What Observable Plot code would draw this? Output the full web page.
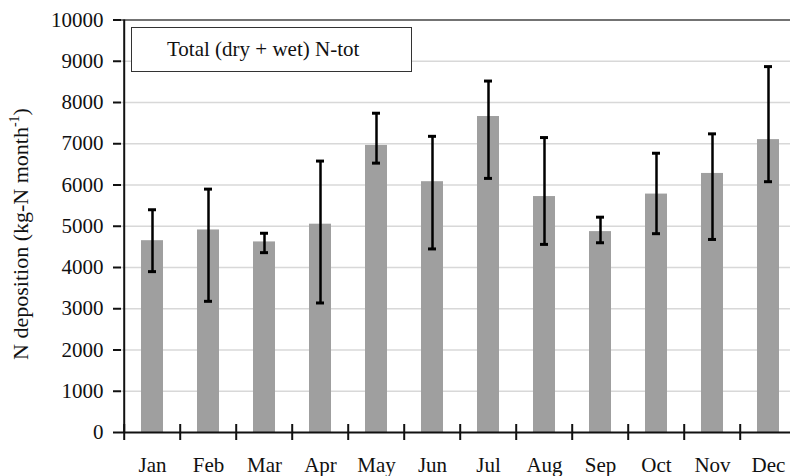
<!DOCTYPE html>
<html>
<head>
<meta charset="utf-8">
<script src="https://cdn.jsdelivr.net/npm/d3@7"></script>
<script src="https://cdn.jsdelivr.net/npm/@observablehq/plot@0.6"></script>
<style>
  html, body { margin: 0; padding: 0; background: #fff; }
  #chart { position: relative; width: 790px; height: 476px; overflow: hidden; }
  #legend {
    position: absolute; left: 131px; top: 27px; width: 281px; height: 45px;
    box-sizing: border-box; border: 1.5px solid #333; background: #fff;
    font-family: "Liberation Serif", "Times New Roman", Tinos; font-size: 21px; color: #111;
    line-height: 42px; padding-left: 35px; white-space: nowrap;
  }
</style>
</head>
<body>
<div id="chart"><div id="legend">Total (dry + wet) N-tot</div></div>
<script>
// Monthly total (dry + wet) N deposition with min/max ranges
const months = ["Jan", "Feb", "Mar", "Apr", "May", "Jun", "Jul", "Aug", "Sep", "Oct", "Nov", "Dec"];
const meanValues = [4650, 4910, 4620, 5050, 6960, 6080, 7660, 5720, 4870, 5780, 6280, 7100];
const upperValues = [5400, 5900, 4830, 6580, 7740, 7180, 8520, 7150, 5220, 6770, 7240, 8870];
const lowerValues = [3900, 3180, 4360, 3140, 6530, 4450, 6160, 4560, 4600, 4820, 4680, 6080];
const yTicks = [0, 1000, 2000, 3000, 4000, 5000, 6000, 7000, 8000, 9000, 10000];

const data = months.map((m, i) => ({month: m, mean: meanValues[i], hi: upperValues[i], lo: lowerValues[i]}));

const width = 790, height = 476;
const marginLeft = 121, marginRight = -10, marginTop = 19.5, marginBottom = 44;
const step = (width - marginLeft - marginRight) / months.length; // band step in px
const font = '"Liberation Serif", "Times New Roman", Tinos';

const chart = Plot.plot({
  width, height, marginLeft, marginRight, marginTop, marginBottom,
  style: {fontFamily: font, fontSize: "21px", color: "#111", background: "transparent", overflow: "hidden"},
  x: {domain: months, paddingInner: 0.6, paddingOuter: 0.3, align: 0.5, axis: null},
  y: {domain: [0, 10000], axis: null},
  marks: [
    Plot.gridY(yTicks.slice(1, -1), {stroke: "#d8d8d8", strokeOpacity: 1, strokeWidth: 1.5}),
    Plot.ruleY([10000], {stroke: "#444", strokeWidth: 1.5}),
    Plot.barY(data, {x: "month", y: "mean", fill: "#9f9f9f"}),
    Plot.ruleX(data, {x: "month", y1: "lo", y2: "hi", stroke: "#000", strokeWidth: 2.5}),
    Plot.tickY(data, {x: "month", y: "hi", stroke: "#000", strokeWidth: 3, insetLeft: 7, insetRight: 7}),
    Plot.tickY(data, {x: "month", y: "lo", stroke: "#000", strokeWidth: 3, insetLeft: 7, insetRight: 7}),
    Plot.ruleY([0], {stroke: "#111", strokeWidth: 2}),
    Plot.ruleX([months[0]], {dx: -step / 2, y1: 0, y2: 10000, stroke: "#111", strokeWidth: 2}),
    Plot.axisY({ticks: yTicks, tickSize: 8, tickPadding: 10, tickFormat: d3.format("d"), stroke: "#111", strokeWidth: 2, fontSize: 21, fontFamily: font, label: null}),
    Plot.axisX({tickSize: 16, dy: -8, dx: -step / 2, tickFormat: () => "", stroke: "#111", strokeWidth: 2, label: null}),
    Plot.axisX({tickSize: 0, tickPadding: 25, fontSize: 21, fontFamily: font, label: null})
  ]
});

// Rotated y-axis title with superscript exponent
const svg = d3.select(chart);
const title = svg.append("text")
  .attr("transform", "translate(28,234) rotate(-90)")
  .attr("text-anchor", "middle")
  .attr("fill", "#111")
  .style("font-family", font)
  .style("font-size", "22px");
title.append("tspan").text("N deposition (kg-N month");
title.append("tspan").attr("dy", -9).style("font-size", "14px").text("-1");
title.append("tspan").attr("dy", 9).text(")");

document.getElementById("chart").prepend(chart);
</script>
</body>
</html>
